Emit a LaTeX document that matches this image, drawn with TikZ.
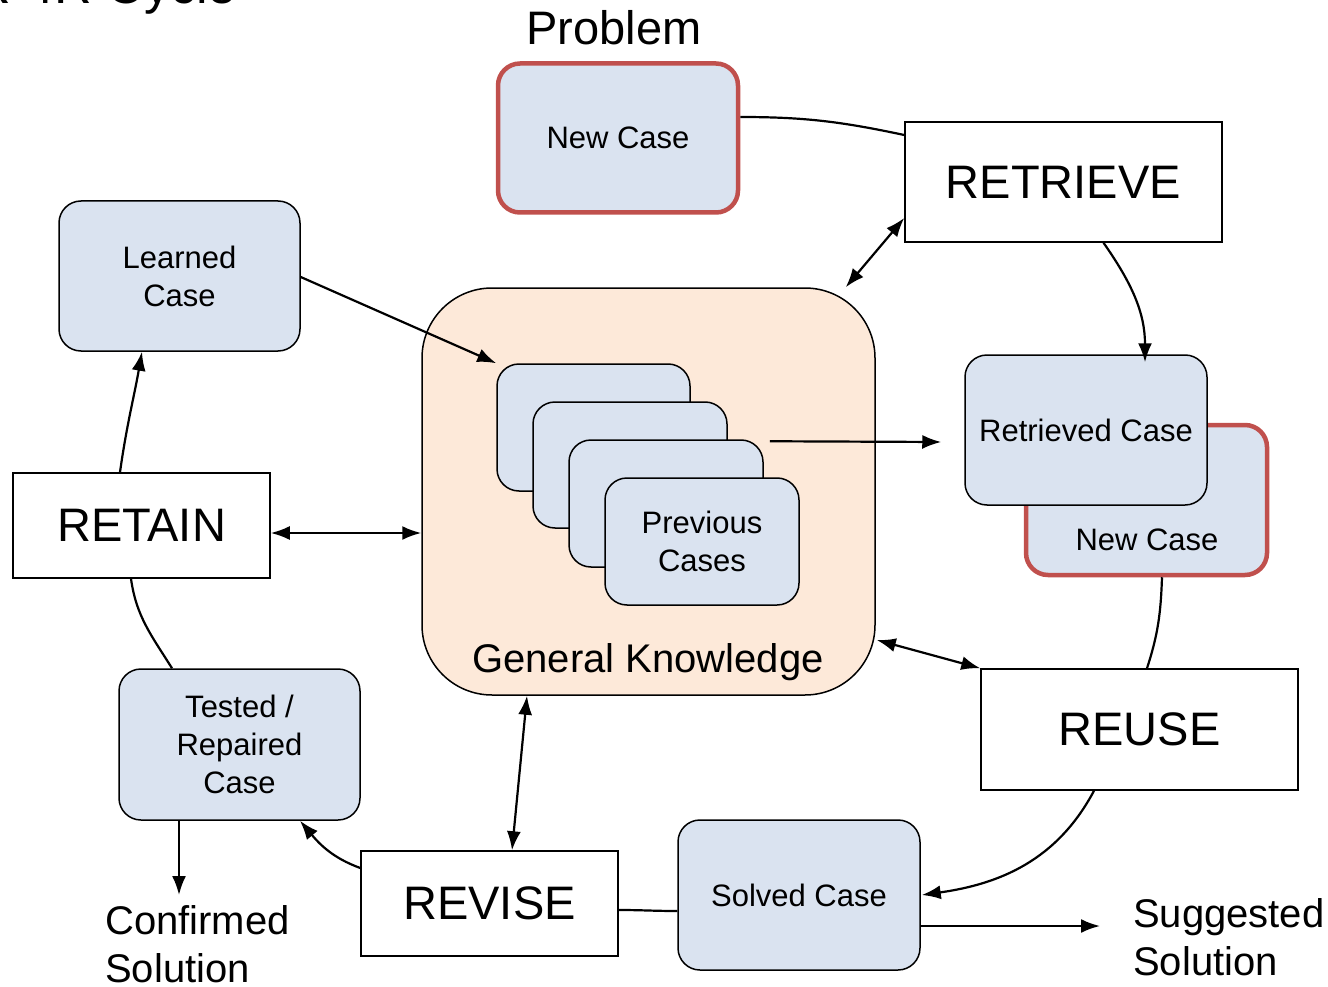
\documentclass[tikz,border=0pt]{standalone}
\usepackage{fontspec}
\setmainfont{Liberation Sans}
\usetikzlibrary{arrows.meta}
\definecolor{caseblue}{HTML}{DAE3F0}
\definecolor{knowpeach}{HTML}{FDE9D9}
\definecolor{casered}{HTML}{C0504D}
\tikzset{
  casebox/.style={draw=black, line width=1.5pt, fill=caseblue, rounded corners=22pt,
    align=center, inner sep=0pt, font=\fontsize{31}{38}\selectfont},
  newbox/.style={casebox, draw=casered, line width=4.5pt},
  phase/.style={draw=black, line width=1.5pt, fill=white, inner sep=0pt,
    font=\fontsize{47}{52}\selectfont},
  plain/.style={inner sep=0pt, align=left},
  link/.style={line width=2.2pt},
  tip/.tip={Latex[length=19pt,width=14pt]},
  conn/.style={link, -tip},
  both/.style={link, tip-tip},
}
\begin{document}
\begin{tikzpicture}[x=1pt, y=-1pt]
\useasboundingbox (0,0) rectangle (1328,987);

% heading, cut by the top edge
\begin{scope}
  \clip (0,0) rectangle (1328,987);
  \node[plain, anchor=base east, font=\fontsize{52}{56}\selectfont] (heading) at (237,4) {CBR 4R Cycle};
\end{scope}

% knowledge base with stacked previous cases
\node[draw=black, line width=1.5pt, fill=knowpeach, rounded corners=70pt,
      minimum width=453pt, minimum height=407pt] (gk) at (648.5,491.5) {};
\node[plain, font=\fontsize{40}{45}\selectfont] (gklabel) at (648,662) {General Knowledge};
\node[casebox, minimum width=193pt, minimum height=127pt] (card1) at (593.5,427.5) {};
\node[casebox, minimum width=194pt, minimum height=126pt] (card2) at (630,465) {};
\node[casebox, minimum width=194pt, minimum height=127pt] (card3) at (666,503.5) {};
\node[casebox, minimum width=194pt, minimum height=127pt] (card4) at (702,541.5) {Previous\\Cases};

% problem
\node[plain, font=\fontsize{47}{52}\selectfont] (problem) at (614,28) {Problem};
\node[newbox, minimum width=240pt, minimum height=149pt] (newtop) at (618,138) {New Case};

% phases
\node[phase, minimum width=317pt, minimum height=120pt] (retrieve) at (1063.5,182) {RETRIEVE};
\node[phase, minimum width=317pt, minimum height=121pt] (reuse) at (1139.5,729.5) {REUSE};
\node[phase, minimum width=257pt, minimum height=105pt] (revise) at (489.5,903.5) {REVISE};
\node[phase, minimum width=257pt, minimum height=105pt] (retain) at (141.5,525.5) {RETAIN};

% cases around the cycle
\node[newbox, minimum width=241pt, minimum height=150pt] (newright) at (1146.5,500) {};
\node[plain, font=\fontsize{31}{38}\selectfont] (newrightlabel) at (1147,540) {New Case};
\node[casebox, minimum width=242pt, minimum height=150pt] (retrieved) at (1086,430) {Retrieved Case};
\node[casebox, minimum width=242pt, minimum height=150pt] (solved) at (799,895) {Solved Case};
\node[casebox, minimum width=241pt, minimum height=151pt] (tested) at (239.5,744.5) {Tested /\\Repaired\\Case};
\node[casebox, minimum width=241pt, minimum height=150pt] (learned) at (179.5,276) {Learned\\Case};

% outcomes
\node[plain, anchor=west, font=\fontsize{40}{48}\selectfont] (suggested) at (1133,937) {Suggested\\Solution};
\node[plain, anchor=west, font=\fontsize{40}{48}\selectfont] (confirmed) at (105,944) {Confirmed\\Solution};
\coordinate (sgtip) at (1100,926);
\coordinate (cftip) at (179,895);

% connectors
\draw[link] ([yshift=21pt]newtop.east) to[out=0, in=168] ([yshift=47pt]retrieve.west);
\draw[both] ([yshift=-36pt]retrieve.west) -- ([xshift=-30pt]gk.north east);
\draw[conn] ([xshift=40pt]retrieve.south) to[out=-55, in=90] ([shift={(59pt,-8pt)}]retrieved.north);
\draw[conn] ([shift={(6pt,-2pt)}]card3.north east) -- ([shift={(-23pt,-12pt)}]retrieved.west);
\draw[link] ([xshift=15.5pt]newright.south) to[out=-92, in=72] ([xshift=7.5pt]reuse.north);
\draw[both] ([shift={(1pt,-148.5pt)}]gk.east) -- (reuse.north west);
\draw[conn] ([xshift=-45.5pt]reuse.south) to[out=-118, in=8] ([xshift=1pt]solved.east);
\draw[conn] ([yshift=-31pt]solved.east) -- (sgtip);
\draw[link] ([yshift=-16pt]solved.west) to[out=180, in=0] ([yshift=-6.5pt]revise.east);
\draw[both] ([xshift=-121.5pt]gk.south) -- ([xshift=22.5pt]revise.north);
\draw[conn] ([yshift=35.5pt]revise.west) to[out=160, in=-50] ([xshift=60.5pt]tested.south);
\draw[conn] ([xshift=-60.5pt]tested.south) -- (cftip);
\draw[link] ([xshift=-67.5pt]tested.north) to[out=122, in=-82] ([xshift=-10.5pt]retain.south);
\draw[both] ([yshift=-7.5pt]retain.east) -- ([yshift=-41.5pt]gk.west);
\draw[conn] ([xshift=-21.5pt]retain.north) to[out=82, in=-100] ([xshift=-37.5pt]learned.south);
\draw[conn] ([yshift=-1pt]learned.east) -- (card1.north west);
\end{tikzpicture}
\end{document}
